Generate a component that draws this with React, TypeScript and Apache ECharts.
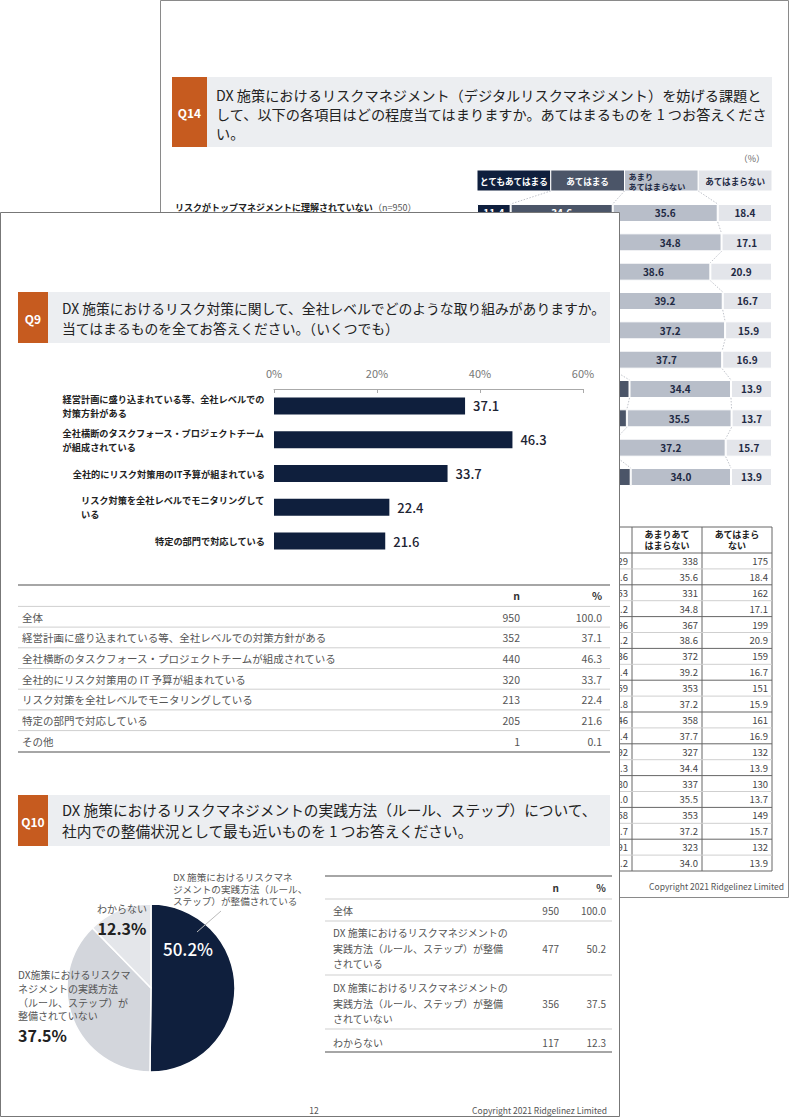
import React, { useEffect, useRef } from 'react';
import * as echarts from 'echarts';

const FONT = "'Noto Sans CJK JP', 'Noto Sans', sans-serif";

// ---------- Q14 (back page) ----------
const q14Title =
  'DX 施策におけるリスクマネジメント（デジタルリスクマネジメント）を妨げる課題と\nして、以下の各項目はどの程度当てはまりますか。あてはまるものを 1 つお答えくださ\nい。';
const q14Legend = ['とてもあてはまる', 'あてはまる', 'あまり\nあてはまらない', 'あてはまらない'];
const q14Rows = ['リスクがトップマネジメントに理解されていない', '', '', '', '', '', '', '', '', ''];
const q14RowN = '（n=950）';
const q14Very = [11.4, 10.9, 9.3, 8.7, 9.1, 9.0, 10.4, 10.8, 9.4, 10.9];
const q14Some = [34.6, 37.2, 31.2, 35.4, 37.8, 36.4, 41.3, 40.0, 37.7, 41.2];
const q14Little = [35.6, 34.8, 38.6, 39.2, 37.2, 37.7, 34.4, 35.5, 37.2, 34.0];
const q14Not = [18.4, 17.1, 20.9, 16.7, 15.9, 16.9, 13.9, 13.7, 15.7, 13.9];
const q14SomeN = [329, 353, 296, 336, 359, 346, 392, 380, 358, 391];
const q14LittleN = [338, 331, 367, 372, 353, 358, 327, 337, 353, 323];
const q14NotN = [175, 162, 199, 159, 151, 161, 132, 130, 149, 132];
const q14TableHeads = ['あまりあて\nはまらない', 'あてはまら\nない'];

// ---------- Q9 ----------
const q9Title =
  'DX 施策におけるリスク対策に関して、全社レベルでどのような取り組みがありますか。\n当てはまるものを全てお答えください。（いくつでも）';
const q9Labels = [
  '経営計画に盛り込まれている等、全社レベルでの\n対策方針がある',
  '全社横断のタスクフォース・プロジェクトチーム\nが組成されている',
  '全社的にリスク対策用のIT予算が組まれている',
  'リスク対策を全社レベルでモニタリングして\nいる',
  '特定の部門で対応している',
];
const q9Values = [37.1, 46.3, 33.7, 22.4, 21.6];
const q9Ticks = [0, 20, 40, 60];
const q9TableLabels = [
  '全体',
  '経営計画に盛り込まれている等、全社レベルでの対策方針がある',
  '全社横断のタスクフォース・プロジェクトチームが組成されている',
  '全社的にリスク対策用の IT 予算が組まれている',
  'リスク対策を全社レベルでモニタリングしている',
  '特定の部門で対応している',
  'その他',
];
const q9TableN = [950, 352, 440, 320, 213, 205, 1];
const q9TablePct = [100.0, 37.1, 46.3, 33.7, 22.4, 21.6, 0.1];

// ---------- Q10 ----------
const q10Title =
  'DX 施策におけるリスクマネジメントの実践方法（ルール、ステップ）について、\n社内での整備状況として最も近いものを 1 つお答えください。';
const pieNames = [
  'DX 施策におけるリスクマネジメントの実践方法（ルール、ステップ）が整備されている',
  'DX施策におけるリスクマネジメントの実践方法（ルール、ステップ）が整備されていない',
  'わからない',
];
const pieLabelText = [
  'DX 施策におけるリスクマネ\nジメントの実践方法（ルール、\nステップ）が整備されている',
  'DX施策におけるリスクマ\nネジメントの実践方法\n（ルール、ステップ）が\n整備されていない',
  'わからない',
];
const pieValues = [50.2, 37.5, 12.3];
const q10TableLabels = [
  '全体',
  'DX 施策におけるリスクマネジメントの\n実践方法（ルール、ステップ）が整備\nされている',
  'DX 施策におけるリスクマネジメントの\n実践方法（ルール、ステップ）が整備\nされていない',
  'わからない',
];
const q10TableN = [950, 477, 356, 117];
const q10TablePct = [100.0, 50.2, 37.5, 12.3];

const pageNo = '12';
const copyright = 'Copyright 2021 Ridgelinez Limited';

// ---------- styles / layout ----------
const ORANGE = '#c65b1f';
const NAVY = '#0f1f3d';
const SLATE = '#4b5568';
const GRAY = '#b8bec9';
const LIGHT = '#e3e5ea';
const BAND = '#eceef1';
const q14Colors = [NAVY, SLATE, GRAY, LIGHT];
const q14LabelColors = ['#ffffff', '#ffffff', '#1f2a44', '#1f2a44'];
const pieColors = [NAVY, '#d3d6dc', '#e4e6ea'];

const BACK_GRID = { left: 477, top: 198.33, width: 295, height: 293.33 };
const FRONT_RIGHT = 620;
const FRONT_TOP = 212;

function buildOption() {
  const g: any[] = [];
  const text = (x: number, y: number, t: string, o: any = {}) =>
    g.push({
      type: 'text',
      x,
      y,
      z: o.z ?? 11,
      silent: true,
      style: {
        text: t,
        fill: o.fill ?? '#333',
        fontSize: o.fontSize ?? 11,
        fontWeight: o.fontWeight ?? 'normal',
        fontFamily: FONT,
        align: o.align ?? 'left',
        textAlign: o.align ?? 'left',
        verticalAlign: o.va ?? 'middle',
        textVerticalAlign: o.va ?? 'middle',
        lineHeight: o.lineHeight,
      },
    });
  const rect = (x: number, y: number, w: number, h: number, fill: string, z: number, stroke?: string, lw?: number) =>
    g.push({
      type: 'rect',
      z,
      silent: true,
      shape: { x, y, width: w, height: h },
      style: { fill, stroke: stroke ?? null, lineWidth: lw ?? 0 },
    });
  const line = (x1: number, y1: number, x2: number, y2: number, stroke: string, lw: number, z: number) =>
    g.push({
      type: 'line',
      z,
      silent: true,
      shape: { x1, y1, x2, y2 },
      style: { stroke, lineWidth: lw },
    });

  // ===== back page =====
  rect(160.5, 0.5, 628, 897, '#ffffff', 1, '#8a8a8a', 1);
  rect(172, 77, 35, 70, ORANGE, 2);
  rect(207, 77, 565, 70, BAND, 2);
  text(189.5, 112, 'Q14', { fill: '#fff', fontSize: 12, fontWeight: 'bold', align: 'center', z: 3 });
  text(216, 114, q14Title, { fill: '#222', fontSize: 14.2, lineHeight: 19, z: 3 });
  text(765, 158, '（%）', { fill: '#666', fontSize: 9, align: 'right', z: 3 });
  const lw = BACK_GRID.width / 4;
  q14Legend.forEach((l, k) => {
    rect(BACK_GRID.left + k * lw, 170, lw, 21, q14Colors[k], 2, '#ffffff', 1);
    if (l.includes('\n')) {
      text(BACK_GRID.left + k * lw + 4, 180.5, l, { fill: q14LabelColors[k], fontSize: 8.2, fontWeight: 'bold', lineHeight: 10, z: 3 });
    } else {
      text(BACK_GRID.left + k * lw + lw / 2, 180.5, l, { fill: q14LabelColors[k], fontSize: 8.6, fontWeight: 'bold', align: 'center', z: 3 });
    }
  });
  // back table
  const tTop = 527;
  const tHead = 553;
  const rh = 15.9;
  const tBot = tHead + 20 * rh;
  [562, 632, 702, 772].forEach((x) => line(x, tTop, x, tBot, '#666', 1, 2));
  line(480, tTop, 772, tTop, '#666', 1, 2);
  line(480, tHead, 772, tHead, '#666', 1, 2);
  for (let k = 1; k <= 20; k++) {
    const y = tHead + k * rh;
    line(480, y, 772, y, k % 2 === 0 ? '#666' : '#cfcfcf', 1, 2);
  }
  text(667, 540, q14TableHeads[0], { fill: '#222', fontSize: 9, fontWeight: 'bold', align: 'center', lineHeight: 11.5, z: 3 });
  text(737, 540, q14TableHeads[1], { fill: '#222', fontSize: 9, fontWeight: 'bold', align: 'center', lineHeight: 11.5, z: 3 });
  for (let r = 0; r < 10; r++) {
    const yn = tHead + rh / 2 + 2 * r * rh;
    const yp = yn + rh;
    const o = { fill: '#444', fontSize: 9.5, align: 'right', z: 3 };
    text(628, yn, String(q14SomeN[r]), o);
    text(628, yp, q14Some[r].toFixed(1), o);
    text(698, yn, String(q14LittleN[r]), o);
    text(698, yp, q14Little[r].toFixed(1), o);
    text(768, yn, String(q14NotN[r]), o);
    text(768, yp, q14Not[r].toFixed(1), o);
  }
  text(784, 886, copyright, { fill: '#555', fontSize: 8.5, align: 'right', z: 3 });

  // ===== front page =====
  rect(0.5, FRONT_TOP + 0.5, FRONT_RIGHT - 1, 904, '#ffffff', 10, '#777777', 1);
  // Q9 header
  rect(18, 292, 30, 51, ORANGE, 11);
  rect(48, 292, 562, 51, BAND, 11);
  text(33, 318, 'Q9', { fill: '#fff', fontSize: 12, fontWeight: 'bold', align: 'center', z: 12 });
  text(62, 318, q9Title, { fill: '#222', fontSize: 13.8, lineHeight: 20.5, z: 12 });
  // Q9 table
  line(18, 585, 610, 585, '#888', 1.5, 11);
  text(520, 595, 'n', { fill: '#333', fontSize: 10.5, fontWeight: 'bold', align: 'right', z: 12 });
  text(602, 595, '%', { fill: '#333', fontSize: 10.5, fontWeight: 'bold', align: 'right', z: 12 });
  q9TableLabels.forEach((l, i) => {
    const y = 617 + i * 20.7;
    line(18, y - 10.6, 610, y - 10.6, '#cfcfcf', 1, 11);
    text(22, y, l, { fill: '#555', fontSize: 10.5, z: 12 });
    text(520, y, String(q9TableN[i]), { fill: '#555', fontSize: 10.5, align: 'right', z: 12 });
    text(602, y, q9TablePct[i].toFixed(1), { fill: '#555', fontSize: 10.5, align: 'right', z: 12 });
  });
  line(18, 752, 610, 752, '#888', 1.5, 11);
  // Q10 header
  rect(18, 795, 30, 51, ORANGE, 11);
  rect(48, 795, 562, 51, BAND, 11);
  text(33, 821, 'Q10', { fill: '#fff', fontSize: 12, fontWeight: 'bold', align: 'center', z: 12 });
  text(62, 820, q10Title, { fill: '#222', fontSize: 14.7, lineHeight: 20.5, z: 12 });
  // pie name label for first slice + leader
  text(173, 888.5, pieLabelText[0], { fill: '#555', fontSize: 9.6, lineHeight: 12, z: 13 });
  line(197, 932, 221, 911, '#bbbbbb', 1, 13);
  // Q10 table
  line(325, 876, 612, 876, '#888', 1.5, 11);
  text(559, 887, 'n', { fill: '#333', fontSize: 10, fontWeight: 'bold', align: 'right', z: 12 });
  text(606, 887, '%', { fill: '#333', fontSize: 10, fontWeight: 'bold', align: 'right', z: 12 });
  const q10Centers = [910, 948, 1003, 1042];
  const q10Lines = [899, 921, 975, 1029];
  q10Lines.forEach((y) => line(325, y, 612, y, '#cfcfcf', 1, 11));
  q10TableLabels.forEach((l, i) => {
    const y = q10Centers[i];
    text(333, y, l, { fill: '#555', fontSize: 10, lineHeight: 15.5, z: 12 });
    text(559, y, String(q10TableN[i]), { fill: '#555', fontSize: 10, align: 'right', z: 12 });
    text(606, y, q10TablePct[i].toFixed(1), { fill: '#555', fontSize: 10, align: 'right', z: 12 });
  });
  line(325, 1052, 612, 1052, '#888', 1.5, 11);
  // footer
  text(314, 1110, pageNo, { fill: '#555', fontSize: 8.5, align: 'center', z: 12 });
  text(607, 1110, copyright, { fill: '#555', fontSize: 8.5, align: 'right', z: 12 });

  // ===== connectors (custom series data) =====
  const q14Series = [q14Very, q14Some, q14Little, q14Not];
  const cum = q14Very.map((v, i) => [v, v + q14Some[i], v + q14Some[i] + q14Little[i]]);
  const connData = cum.map((c, i) => (i === 0 ? [0, 25, 50, 75, c[0], c[1], c[2]] : [i, ...cum[i - 1], ...c]));

  // a back-page bar label is skipped when the front page fully covers it
  const bandH = BACK_GRID.height / q14Rows.length;
  const coveredLabel = (k: number, i: number) => {
    let start = 0;
    for (let j = 0; j < k; j++) start += q14Series[j][i];
    const mid = start + q14Series[k][i] / 2;
    const cx = BACK_GRID.left + (BACK_GRID.width * mid) / 100;
    const rowTop = BACK_GRID.top + bandH * (i + 0.5) - 9;
    return cx < FRONT_RIGHT && rowTop > FRONT_TOP;
  };

  // q9 y-axis rich styles
  const base = { fontSize: 9.2, fontWeight: 'bold', color: '#222', lineHeight: 14, fontFamily: FONT };
  const q9Rich: any = { t: base };
  q9Labels.forEach((l) => {
    const parts = l.split('\n');
    if (parts.length > 1) q9Rich['w' + parts[0].length] = { ...base, width: parts[0].length * 9.2, align: 'left' };
  });

  const series: any[] = [];
  q14Series.forEach((arr, k) => {
    series.push({
      type: 'bar',
      xAxisIndex: 0,
      yAxisIndex: 0,
      stack: 'q14',
      z: 3,
      silent: true,
      barWidth: 18,
      data: arr,
      itemStyle: { color: q14Colors[k], borderColor: '#ffffff', borderWidth: 1 },
      label: {
        show: true,
        position: 'inside',
        color: q14LabelColors[k],
        fontSize: 10,
        fontWeight: 'bold',
        fontFamily: FONT,
        formatter: (p: any) => (coveredLabel(k, p.dataIndex) ? '' : Number(p.value).toFixed(1)),
      },
    });
  });
  series.push({
    type: 'custom',
    xAxisIndex: 0,
    yAxisIndex: 0,
    z: 3,
    silent: true,
    encode: { x: [1, 2, 3, 4, 5, 6], y: 0 },
    data: connData,
    renderItem: (params: any, api: any) => {
      const i = api.value(0);
      const band = api.size([0, 1])[1];
      const half = 9;
      const yTop = api.coord([0, i])[1] - half;
      const yPrev = i === 0 ? api.coord([0, 0])[1] - band * 0.75 : api.coord([0, i - 1])[1] + half;
      const children = [1, 2, 3].map((k) => ({
        type: 'line',
        shape: {
          x1: api.coord([api.value(k), i])[0],
          y1: yPrev,
          x2: api.coord([api.value(k + 3), i])[0],
          y2: yTop,
        },
        style: { stroke: '#b0b4bc', lineWidth: 0.8, lineDash: [1.5, 1.5] },
      }));
      return { type: 'group', children };
    },
  });
  series.push({
    type: 'bar',
    xAxisIndex: 1,
    yAxisIndex: 1,
    z: 12,
    silent: true,
    barWidth: 17,
    data: q9Values,
    itemStyle: { color: NAVY },
    label: {
      show: true,
      position: 'right',
      distance: 8,
      fontSize: 13,
      fontWeight: 500,
      color: '#1d2433',
      fontFamily: FONT,
      formatter: (p: any) => Number(p.value).toFixed(1),
    },
  });
  series.push({
    type: 'pie',
    z: 12,
    silent: true,
    center: [151, 988],
    radius: 84,
    startAngle: 90,
    clockwise: true,
    avoidLabelOverlap: false,
    itemStyle: { borderColor: '#ffffff', borderWidth: 1.5 },
    labelLine: { show: false },
    data: pieValues.map((v, i) => ({
      value: v,
      name: pieNames[i],
      itemStyle: { color: pieColors[i] },
      label: { position: i === 0 ? 'inside' : 'outside' },
    })),
    label: {
      show: true,
      fontFamily: FONT,
      formatter: (p: any) =>
        p.dataIndex === 0
          ? `{w|${Number(p.value).toFixed(1)}%}`
          : `{n|${pieLabelText[p.dataIndex]}}\n{p|${Number(p.value).toFixed(1)}%}`,
      rich: {
        w: { fontSize: 17, color: '#ffffff', fontWeight: 500, fontFamily: FONT },
        n: { fontSize: 10, color: '#555', lineHeight: 13.7, fontFamily: FONT },
        p: { fontSize: 16, color: '#222', fontWeight: 'bold', lineHeight: 24, fontFamily: FONT },
      },
    },
    labelLayout: (p: any) => {
      if (p.dataIndex === 0) return { x: 188, y: 948, align: 'center', verticalAlign: 'middle' };
      if (p.dataIndex === 1) return { x: 18, y: 968, align: 'left', verticalAlign: 'top' };
      return { x: 122, y: 902, align: 'center', verticalAlign: 'top' };
    },
  });

  return {
    animation: false,
    textStyle: { fontFamily: FONT },
    grid: [BACK_GRID, { left: 274, top: 389, width: 309, height: 169 }],
    xAxis: [
      { gridIndex: 0, type: 'value', min: 0, max: 100, show: false },
      {
        gridIndex: 1,
        type: 'value',
        min: q9Ticks[0],
        max: q9Ticks[q9Ticks.length - 1],
        interval: q9Ticks[1] - q9Ticks[0],
        position: 'top',
        z: 12,
        axisLine: { show: true, lineStyle: { color: '#aaaaaa' } },
        axisTick: { show: true, inside: true, length: 4, lineStyle: { color: '#aaaaaa' } },
        splitLine: { show: false },
        axisLabel: { formatter: '{value}%', color: '#777', fontSize: 11, margin: 11, fontFamily: FONT },
      },
    ],
    yAxis: [
      {
        gridIndex: 0,
        type: 'category',
        inverse: true,
        z: 3,
        data: q14Rows.map((_, i) => 'r' + i),
        axisLine: { show: false },
        axisTick: { show: false },
        axisLabel: {
          interval: 0,
          margin: 302,
          align: 'left',
          verticalAlign: 'bottom',
          padding: [0, 0, 1, 0],
          formatter: (_v: string, i: number) => (q14Rows[i] ? `{b|${q14Rows[i]}}{n|${q14RowN}}` : ''),
          rich: {
            b: { fontSize: 9, fontWeight: 'bold', color: '#222', fontFamily: FONT },
            n: { fontSize: 9, color: '#555', fontFamily: FONT },
          },
        },
      },
      {
        gridIndex: 1,
        type: 'category',
        inverse: true,
        z: 12,
        data: q9Labels,
        axisLine: { show: false },
        axisTick: { show: false },
        axisLabel: {
          interval: 0,
          margin: 9,
          align: 'right',
          formatter: (v: string) => {
            const parts = v.split('\n');
            if (parts.length === 1) return `{t|${v}}`;
            const key = 'w' + parts[0].length;
            return parts.map((l) => `{${key}|${l}}`).join('\n');
          },
          rich: q9Rich,
        },
      },
    ],
    series,
    graphic: { elements: g },
  };
}

export default function App() {
  const ref = useRef<HTMLDivElement>(null);
  useEffect(() => {
    if (!ref.current) return;
    const chart = echarts.init(ref.current, null, { renderer: 'svg' });
    chart.setOption(buildOption() as any);
    return () => chart.dispose();
  }, []);
  return (
    <div
      ref={ref}
      style={{ position: 'absolute', left: 0, top: 0, width: 790, height: 1118, background: '#ffffff' }}
    />
  );
}
